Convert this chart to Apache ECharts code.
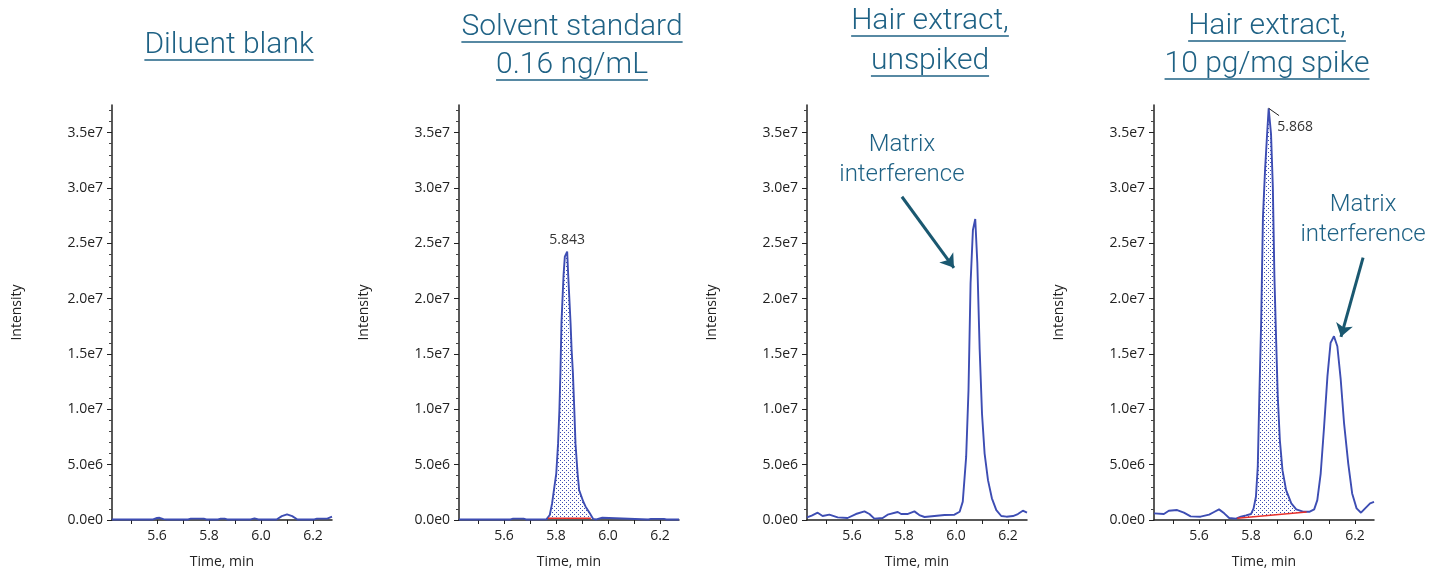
<!DOCTYPE html>
<html>
<head>
<meta charset="UTF-8" />
<title>Chromatograms</title>
<script src="https://cdn.jsdelivr.net/npm/echarts@6.0.0/dist/echarts.min.js"></script>
<style>
    html, body { margin: 0; padding: 0; background: #fff; }
    #main { width: 1445px; height: 574px; }
</style>
</head>
<body>
<div id="main"></div>
<script>
// time in min, intensity in units of 1e6
var blankTime = [5.427, 5.585, 5.60, 5.61, 5.625, 5.64, 5.72, 5.73, 5.78, 5.79, 5.835, 5.845, 5.86, 5.87, 5.96, 5.975, 5.99, 6.06, 6.08, 6.10, 6.12, 6.14, 6.205, 6.215, 6.255, 6.273];
var blankInt  = [0.05, 0.05, 0.18, 0.2, 0.08, 0.05, 0.05, 0.12, 0.12, 0.05, 0.05, 0.12, 0.12, 0.05, 0.05, 0.15, 0.05, 0.05, 0.35, 0.5, 0.35, 0.05, 0.05, 0.12, 0.12, 0.3];

var stdTime = [5.427, 5.625, 5.635, 5.675, 5.685, 5.763, 5.776, 5.785, 5.792, 5.801, 5.808, 5.813, 5.817, 5.821, 5.829, 5.834, 5.843, 5.847, 5.856, 5.860, 5.865, 5.870, 5.875, 5.883, 5.889, 5.905, 5.914, 5.930, 5.943, 5.955, 5.962, 5.978, 5.985, 6.155, 6.165, 6.215, 6.225, 6.273];
var stdInt  = [0.05, 0.05, 0.12, 0.12, 0.05, 0.06, 0.45, 1.5, 2.7, 4.2, 6.9, 9.9, 13.3, 17.8, 22.1, 23.8, 24.25, 22.1, 17.8, 15.4, 13.3, 10.2, 6.9, 4.2, 2.7, 1.65, 1.2, 0.6, 0.1, 0.05, 0.2, 0.2, 0.05, 0.05, 0.1, 0.1, 0.05, 0.05];
var stdBase = [[5.769, 0.15], [5.934, 0.15]];

var hairTime = [5.427, 5.445, 5.468, 5.487, 5.513, 5.545, 5.583, 5.615, 5.648, 5.667, 5.686, 5.718, 5.737, 5.776, 5.789, 5.813, 5.840, 5.859, 5.879, 5.917, 5.956, 5.994, 6.014, 6.026, 6.039, 6.048, 6.056, 6.065, 6.074, 6.082, 6.091, 6.100, 6.110, 6.123, 6.138, 6.155, 6.174, 6.194, 6.219, 6.238, 6.257, 6.273];
var hairInt  = [0.24, 0.4, 0.66, 0.36, 0.48, 0.24, 0.18, 0.54, 0.78, 0.54, 0.12, 0.18, 0.48, 0.72, 0.54, 0.54, 0.78, 0.45, 0.27, 0.36, 0.45, 0.48, 0.75, 1.66, 5.7, 11.7, 21.4, 26.2, 27.2, 23.2, 15.4, 9.6, 6.0, 3.6, 1.96, 0.9, 0.36, 0.3, 0.36, 0.54, 0.84, 0.66];

var spikeTime = [5.427, 5.465, 5.484, 5.516, 5.542, 5.568, 5.606, 5.639, 5.658, 5.677, 5.697, 5.716, 5.742, 5.761, 5.781, 5.800, 5.810, 5.819, 5.826, 5.832, 5.839, 5.846, 5.854, 5.862, 5.868, 5.877, 5.884, 5.890, 5.897, 5.903, 5.911, 5.921, 5.935, 5.955, 5.974, 6.000, 6.026, 6.043, 6.055, 6.068, 6.081, 6.094, 6.106, 6.119, 6.132, 6.145, 6.158, 6.174, 6.189, 6.206, 6.223, 6.239, 6.258, 6.273];
var spikeInt  = [0.6, 0.54, 0.84, 0.9, 0.66, 0.33, 0.3, 0.48, 0.72, 0.96, 0.6, 0.18, 0.12, 0.3, 0.42, 0.54, 1.05, 2.1, 4.8, 11.1, 17.8, 27.4, 31.6, 34.9, 37.2, 34.9, 30.1, 22.0, 16.0, 11.1, 7.2, 4.5, 2.7, 1.5, 0.96, 0.75, 0.75, 0.96, 1.8, 4.2, 8.4, 13.0, 16.0, 16.6, 15.7, 12.7, 8.7, 5.1, 2.4, 1.05, 0.66, 1.05, 1.5, 1.63];
var spikeBase = [[5.747, 0.15], [6.014, 0.72]];

var xLabels = [5.6, 5.8, 6.0, 6.2];
var xTicks = [5.5, 5.6, 5.7, 5.8, 5.9, 6.0, 6.1, 6.2];
var yTicks = [0, 5, 10, 15, 20, 25, 30, 35];

var titles = [['Diluent blank'], ['Solvent standard', '0.16 ng/mL'], ['Hair extract,', 'unspiked'], ['Hair extract,', '10 pg/mg spike']];

// peak labels and annotations (data coordinates)
var stdPeak = {name: '5.843', coord: [5.843, 24.25]};
var spikePeak = {name: '5.868', coord: [5.868, 37.2], text: [5.970, 35.54], leaderEnd: [5.908, 36.54]};
var hairNote = {text: [5.792, 32.56], from: [5.792, 29.21], to: [5.992, 22.79]};
var spikeNote = {text: [6.231, 27.13], from: [6.231, 23.70], to: [6.146, 16.55]};

var teal = '#1f6285';
var lineBlue = '#3d4db3';
var axisFont = 'Open Sans';

// dotted fill for integrated peaks
var pat = document.createElement('canvas');
pat.width = 4; pat.height = 4;
var pc = pat.getContext('2d');
pc.fillStyle = '#ffffff';
pc.fillRect(0, 0, 4, 4);
pc.fillStyle = '#3d4db3';
pc.fillRect(0, 0, 1, 1);
pc.fillRect(2, 2, 1, 1);
var dotPattern = {image: pat, repeat: 'repeat'};

function zip(t, v) {
    return t.map(function (x, i) { return [x, v[i]]; });
}

var panels = [
    {time: blankTime, val: blankInt},
    {time: stdTime, val: stdInt, base: stdBase},
    {time: hairTime, val: hairInt},
    {time: spikeTime, val: spikeInt, base: spikeBase}
];

var gridLeft = [112, 459, 807, 1154];
var grids = [], xAxes = [], yAxes = [], series = [];

var arrowLine = {color: '#1a5870', width: 3, type: 'solid'};
var noteLabel = {
    show: true, position: 'inside', formatter: 'Matrix\ninterference',
    fontFamily: 'Roboto', fontWeight: 300, fontSize: 24, lineHeight: 30, color: teal
};

panels.forEach(function (p, i) {
    grids.push({left: gridLeft[i], top: 105, width: 220, height: 415});
    xAxes.push({
        type: 'value', gridIndex: i, min: 5.427, max: 6.273,
        name: 'Time, min', nameLocation: 'middle', nameGap: 35,
        nameTextStyle: {fontFamily: axisFont, fontSize: 14, color: '#222'},
        axisLine: {show: true, onZero: false, lineStyle: {color: '#222', width: 1.5}},
        axisTick: {show: true, customValues: xTicks, length: 4, lineStyle: {color: '#222'}},
        axisLabel: {
            customValues: xLabels, margin: 9,
            fontFamily: axisFont, fontSize: 14, color: '#222',
            formatter: function (v) { return v.toFixed(1); }
        },
        splitLine: {show: false}
    });
    yAxes.push({
        type: 'value', gridIndex: i, min: 0, max: 37.5, interval: 5,
        name: 'Intensity', nameLocation: 'middle', nameGap: 88, nameRotate: 90,
        nameTextStyle: {fontFamily: axisFont, fontSize: 14, color: '#222'},
        axisLine: {show: true, lineStyle: {color: '#222', width: 1.5}},
        axisTick: {show: true, customValues: yTicks, length: 5, lineStyle: {color: '#222'}},
        minorTick: {show: true, splitNumber: 5, length: 3, lineStyle: {color: '#444'}},
        axisLabel: {
            customValues: yTicks, margin: 9,
            fontFamily: axisFont, fontSize: 14, color: '#222',
            formatter: function (v) { return (v * 1e6).toExponential(1).replace('e+', 'e'); }
        },
        splitLine: {show: false}
    });

    if (p.base) {
        series.push({
            type: 'custom', xAxisIndex: i, yAxisIndex: i, silent: true, z: 2,
            data: [p.base[0]],
            renderItem: function (params, api) {
                var pts = [api.coord(p.base[0])];
                p.time.forEach(function (t, k) {
                    if (t > p.base[0][0] && t < p.base[1][0]) pts.push(api.coord([t, p.val[k]]));
                });
                pts.push(api.coord(p.base[1]));
                return {type: 'polygon', shape: {points: pts}, style: {fill: dotPattern, stroke: null}};
            }
        });
    }

    var s = {
        type: 'line', xAxisIndex: i, yAxisIndex: i, data: zip(p.time, p.val),
        showSymbol: false, symbol: 'none', smooth: false, clip: false, silent: true, z: 3,
        lineStyle: {color: lineBlue, width: 1.9}
    };
    if (i === 1) {
        s.markPoint = {
            symbol: 'circle', symbolSize: 0, silent: true,
            data: [{coord: stdPeak.coord, label: {
                show: true, position: 'top', distance: 5, formatter: stdPeak.name,
                fontFamily: axisFont, fontSize: 14, color: '#333'
            }}]
        };
    }
    if (i === 2) {
        s.markPoint = {
            symbol: 'circle', symbolSize: 0, silent: true,
            data: [{coord: hairNote.text, label: noteLabel}]
        };
        s.markLine = {
            silent: true, symbol: ['none', 'arrow'], symbolSize: 13,
            label: {show: false}, lineStyle: arrowLine,
            data: [[{coord: hairNote.from}, {coord: hairNote.to}]]
        };
    }
    if (i === 3) {
        s.markPoint = {
            symbol: 'circle', symbolSize: 0, silent: true,
            data: [
                {coord: spikeNote.text, label: noteLabel},
                {coord: spikePeak.text, label: {
                    show: true, position: 'inside', formatter: spikePeak.name,
                    fontFamily: axisFont, fontSize: 14, color: '#333'
                }}
            ]
        };
        s.markLine = {
            silent: true, symbol: ['none', 'arrow'], symbolSize: 13,
            label: {show: false}, lineStyle: arrowLine,
            data: [
                [{coord: spikeNote.from}, {coord: spikeNote.to}],
                [{coord: spikePeak.coord, symbol: 'none', lineStyle: {color: '#222', width: 1}},
                 {coord: spikePeak.leaderEnd, symbol: 'none'}]
            ]
        };
    }
    series.push(s);

    if (p.base) {
        series.push({
            type: 'line', xAxisIndex: i, yAxisIndex: i, data: p.base,
            showSymbol: false, symbol: 'none', silent: true, z: 4,
            lineStyle: {color: '#e8302a', width: 1.5}
        });
    }
});

// titles with underlines
var titleX = [229, 572, 930, 1267];
var titleY = [[45], [27, 65], [21, 61], [26, 64]];
var titleFont = '300 30px Roboto';
var measure = document.createElement('canvas').getContext('2d');
measure.font = titleFont;
var graphics = [];
titles.forEach(function (lines, i) {
    lines.forEach(function (txt, j) {
        var cx = titleX[i], cy = titleY[i][j];
        var w = measure.measureText(txt).width;
        graphics.push({
            type: 'text', x: cx, y: cy, silent: true,
            style: {text: txt, font: titleFont, fill: teal, align: 'center', verticalAlign: 'middle'}
        });
        graphics.push({
            type: 'line', silent: true,
            shape: {x1: cx - w / 2, y1: cy + 15, x2: cx + w / 2, y2: cy + 15},
            style: {stroke: teal, lineWidth: 1.5}
        });
    });
});

var myChart = echarts.init(document.getElementById('main'));
myChart.setOption({
    backgroundColor: '#fff',
    animation: false,
    grid: grids,
    xAxis: xAxes,
    yAxis: yAxes,
    series: series,
    graphic: graphics
});
</script>
</body>
</html>
